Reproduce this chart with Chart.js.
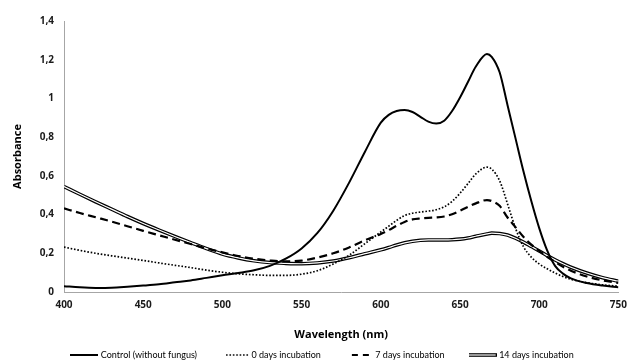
<!DOCTYPE html>
<html>
<head>
<meta charset="utf-8">
<script src="https://cdn.jsdelivr.net/npm/chart.js@4"></script>
<style>
html,body{margin:0;padding:0;background:#fff;}
#wrap{width:634px;height:363px;}
</style>
</head>
<body>
<div id="wrap"><canvas id="c" width="634" height="363"></canvas></div>
<script>
// ---- data ----
const wavelengths = [400,410,420,430,440,450,460,470,480,490,500,510,520,530,540,550,560,570,580,590,600,605,610,615,620,625,630,635,640,645,650,655,660,667,670,675,680,685,690,695,700,705,710,715,720,730,740,750];
const seriesLabels = ['Control (without fungus)','0 days incubation','7 days incubation','14 days incubation'];
const control = [0.030,0.024,0.021,0.022,0.027,0.033,0.040,0.050,0.060,0.073,0.086,0.098,0.112,0.135,0.172,0.225,0.305,0.420,0.565,0.725,0.875,0.915,0.935,0.940,0.930,0.905,0.880,0.870,0.885,0.935,1.005,1.085,1.165,1.230,1.215,1.135,0.965,0.795,0.625,0.470,0.330,0.215,0.135,0.095,0.070,0.046,0.033,0.025];
const days0 = [0.232,0.215,0.200,0.187,0.175,0.163,0.150,0.138,0.126,0.113,0.102,0.094,0.089,0.086,0.086,0.092,0.110,0.145,0.190,0.250,0.310,0.340,0.370,0.395,0.407,0.413,0.418,0.425,0.440,0.468,0.510,0.560,0.610,0.645,0.635,0.575,0.455,0.330,0.235,0.180,0.145,0.120,0.098,0.080,0.066,0.048,0.037,0.030];
const days7 = [0.432,0.408,0.386,0.364,0.340,0.316,0.293,0.270,0.248,0.225,0.205,0.186,0.172,0.163,0.158,0.162,0.178,0.200,0.230,0.268,0.300,0.320,0.342,0.362,0.375,0.380,0.383,0.385,0.390,0.402,0.420,0.440,0.458,0.475,0.470,0.445,0.385,0.335,0.285,0.245,0.212,0.182,0.155,0.130,0.110,0.080,0.060,0.047];
const days14 = [0.545,0.505,0.466,0.428,0.390,0.354,0.320,0.287,0.255,0.224,0.196,0.176,0.161,0.152,0.148,0.146,0.150,0.160,0.177,0.198,0.218,0.230,0.243,0.254,0.262,0.267,0.269,0.269,0.269,0.270,0.273,0.279,0.288,0.300,0.304,0.302,0.294,0.278,0.258,0.235,0.212,0.188,0.166,0.146,0.128,0.098,0.074,0.056];
const xTickValues = [400,450,500,550,600,650,700,750];
const yTickLabels = ['0','0,2','0,4','0,6','0,8','1','1,2','1,4'];

const pts = arr => wavelengths.map((w, i) => ({x: w, y: arr[i]}));

// ---- legend line samples ----
function sample(draw) {
  const c = document.createElement('canvas');
  c.width = 28; c.height = 6;
  const g = c.getContext('2d');
  g.strokeStyle = '#000';
  draw(g);
  return c;
}
const legendImgs = [
  sample(g => { g.lineWidth = 2; g.beginPath(); g.moveTo(0,3); g.lineTo(28,3); g.stroke(); }),
  sample(g => { g.lineWidth = 1.6; g.setLineDash([1.6,1.8]); g.beginPath(); g.moveTo(5,3); g.lineTo(28,3); g.stroke(); }),
  sample(g => { g.lineWidth = 2.2; g.beginPath(); g.moveTo(7,3); g.lineTo(13,3); g.moveTo(18,3); g.lineTo(24,3); g.stroke(); }),
  sample(g => { g.lineWidth = 3.6; g.beginPath(); g.moveTo(0,3); g.lineTo(28,3); g.stroke();
                g.strokeStyle = '#fff'; g.lineWidth = 1.2; g.beginPath(); g.moveTo(0,3); g.lineTo(27,3); g.stroke(); })
];

const LEGEND_PAD = 26;
const legendPatch = {
  id: 'legendPatch',
  beforeLayout(chart) {
    const lg = chart.legend;
    if (lg && !lg._patched) {
      const f = lg.fit;
      lg.fit = function () { f.call(this); this.height = 22; };
      lg._patched = true;
    }
  },
  afterLayout(chart) {
    const lg = chart.legend;
    if (!lg) return;
    lg.top = 355 - LEGEND_PAD - 4.5; lg.bottom = 363;
    lg.left += 12; lg.right += 12;
  }
};

const common = {fill: false, pointRadius: 0, pointHoverRadius: 0, cubicInterpolationMode: 'monotone', borderColor: '#000'};
const boldFont = "'Open Sans', 'Noto Sans', sans-serif";

new Chart(document.getElementById('c'), {
  type: 'line',
  data: {
    datasets: [
      Object.assign({}, common, {label: seriesLabels[0], data: pts(control), borderWidth: 2, order: 0}),
      Object.assign({}, common, {label: seriesLabels[1], data: pts(days0), borderWidth: 1.7, borderDash: [1.6, 1.8], order: 1}),
      Object.assign({}, common, {label: seriesLabels[2], data: pts(days7), borderWidth: 2.2, borderDash: [8, 4.5], order: 2}),
      Object.assign({}, common, {label: seriesLabels[3], data: pts(days14), borderWidth: 3.6, order: 4}),
      Object.assign({}, common, {label: 'inner', data: pts(days14), borderWidth: 1.2, borderColor: '#fff', order: 3})
    ]
  },
  options: {
    responsive: false,
    animation: false,
    devicePixelRatio: 1,
    layout: {padding: {top: 21, right: 12, left: 0, bottom: 0}},
    plugins: {
      tooltip: {enabled: false},
      legend: {
        position: 'bottom',
        labels: {
          usePointStyle: true,
          pointStyleWidth: 24,
          padding: LEGEND_PAD,
          color: '#000',
          font: {family: 'Lato', size: 9},
          filter: item => item.datasetIndex !== 4,
          sort: (a, b) => a.datasetIndex - b.datasetIndex,
          generateLabels: chart => {
            const items = Chart.defaults.plugins.legend.labels.generateLabels(chart);
            items.forEach(it => { if (legendImgs[it.datasetIndex]) it.pointStyle = legendImgs[it.datasetIndex]; });
            return items;
          }
        }
      }
    },
    scales: {
      x: {
        type: 'linear',
        min: xTickValues[0],
        max: xTickValues[xTickValues.length - 1],
        border: {display: true, color: '#a6a6a6', width: 1},
        grid: {display: false, drawTicks: false},
        afterBuildTicks: s => { s.ticks = xTickValues.map(v => ({value: v})); },
        ticks: {padding: 7, color: '#1a1a1a', maxRotation: 0, autoSkip: false, font: {family: boldFont, size: 10, weight: 'bold'}},
        title: {display: true, text: 'Wavelength (nm)', color: '#000', padding: {top: 0, bottom: 0}, font: {family: boldFont, size: 11, weight: 'bold'}},
        afterFit: s => { s.height = 49; }
      },
      y: {
        min: 0,
        max: 1.4,
        border: {display: true, color: '#a6a6a6', width: 1},
        grid: {display: false, drawTicks: false},
        ticks: {stepSize: 0.2, padding: 10, color: '#1a1a1a', font: {family: boldFont, size: 10, weight: 'bold'},
                callback: v => yTickLabels[Math.round(v / 0.2)]},
        title: {display: true, text: 'Absorbance', color: '#000', padding: {top: 11, bottom: 0}, font: {family: boldFont, size: 11, weight: 'bold'}},
        afterFit: s => { s.width = 64; }
      }
    }
  },
  plugins: [legendPatch]
});
</script>
</body>
</html>
